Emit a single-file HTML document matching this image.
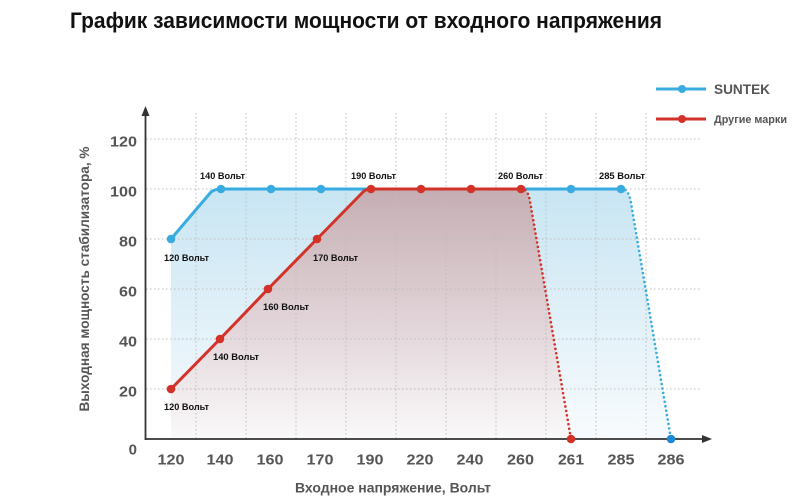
<!DOCTYPE html>
<html>
<head>
<meta charset="utf-8">
<style>
html,body{margin:0;padding:0;background:#fff;}
svg{display:block;}
text{font-family:"Liberation Sans","DejaVu Sans",sans-serif;font-weight:bold;}
</style>
</head>
<body>
<svg width="798" height="496" viewBox="0 0 798 496" xmlns="http://www.w3.org/2000/svg">
<defs>
<linearGradient id="gb" x1="0" y1="189" x2="0" y2="439" gradientUnits="userSpaceOnUse">
<stop offset="0" stop-color="#c8e5f3"/>
<stop offset="1" stop-color="#f8fbfd"/>
</linearGradient>
<linearGradient id="gr" x1="0" y1="189" x2="0" y2="439" gradientUnits="userSpaceOnUse">
<stop offset="0" stop-color="#c5aeb3"/>
<stop offset="0.55" stop-color="#e2d5d9"/>
<stop offset="1" stop-color="#faf9fa"/>
</linearGradient>
</defs>

<!-- title -->
<text x="70" y="28" font-size="22" fill="#111" textLength="592" lengthAdjust="spacingAndGlyphs">График зависимости мощности от входного напряжения</text>

<!-- fills -->
<path d="M171,239 L211,192 Q215,189 221,189 L621,189 C626,189 628.5,192 630.5,200 L671,439 L171,439 Z" fill="url(#gb)"/>
<path d="M171,389 L220,339 L268,289 L317,239 L363,192 Q366,189 371,189 L521,189 C526,189 528,192 529.8,200 L571,439 L171,439 Z" fill="url(#gr)"/>

<!-- grid -->
<g stroke="#bcbcbc" stroke-width="1" stroke-dasharray="1.5 2.5" fill="none">
<line x1="146" y1="139" x2="701" y2="139"/>
<line x1="146" y1="189" x2="701" y2="189"/>
<line x1="146" y1="239" x2="701" y2="239"/>
<line x1="146" y1="289" x2="701" y2="289"/>
<line x1="146" y1="339" x2="701" y2="339"/>
<line x1="146" y1="389" x2="701" y2="389"/>
<line x1="196" y1="113" x2="196" y2="439"/>
<line x1="246" y1="113" x2="246" y2="439"/>
<line x1="296" y1="113" x2="296" y2="439"/>
<line x1="346" y1="113" x2="346" y2="439"/>
<line x1="396" y1="113" x2="396" y2="439"/>
<line x1="446" y1="113" x2="446" y2="439"/>
<line x1="496" y1="113" x2="496" y2="439"/>
<line x1="546" y1="113" x2="546" y2="439"/>
<line x1="596" y1="113" x2="596" y2="439"/>
<line x1="646" y1="113" x2="646" y2="439"/>
</g>

<!-- axes -->
<line x1="145.5" y1="114" x2="145.5" y2="440" stroke="#333" stroke-width="1.8"/>
<polygon points="145.5,106 141.5,116 149.5,116" fill="#333"/>
<line x1="145" y1="439" x2="703" y2="439" stroke="#333" stroke-width="1.8"/>
<polygon points="712,439 702,435 702,443" fill="#333"/>

<!-- blue series -->
<path d="M171,239 L211,192 Q215,189 221,189 L621,189" fill="none" stroke="#38ace0" stroke-width="3" stroke-linejoin="round"/>
<path d="M621,189 C626,189 628.5,192 630.5,200 L671,439" fill="none" stroke="#38ace0" stroke-width="2.6" stroke-linecap="round" stroke-dasharray="0 4.5"/>

<!-- red series -->
<path d="M171,389 L220,339 L268,289 L317,239 L363,192 Q366,189 371,189 L521,189" fill="none" stroke="#d23228" stroke-width="3" stroke-linejoin="round"/>
<path d="M521,189 C526,189 528,192 529.8,200 L571,439" fill="none" stroke="#d23228" stroke-width="2.6" stroke-linecap="round" stroke-dasharray="0 4.5"/>

<!-- blue markers -->
<g fill="#38ace0">
<circle cx="171" cy="239" r="4.3"/>
<circle cx="221" cy="189" r="4.3"/>
<circle cx="271" cy="189" r="4.3"/>
<circle cx="321" cy="189" r="4.3"/>
<circle cx="571" cy="189" r="4.3"/>
<circle cx="621" cy="189" r="4.3"/>
</g>
<circle cx="671" cy="439" r="4.3" fill="#1c8ad3"/>

<!-- red markers -->
<g fill="#d23228">
<circle cx="171" cy="389" r="4.3"/>
<circle cx="220" cy="339" r="4.3"/>
<circle cx="268" cy="289" r="4.3"/>
<circle cx="317" cy="239" r="4.3"/>
<circle cx="371" cy="189" r="4.3"/>
<circle cx="421" cy="189" r="4.3"/>
<circle cx="471" cy="189" r="4.3"/>
<circle cx="521" cy="189" r="4.3"/>
<circle cx="571" cy="439" r="4.3"/>
</g>

<!-- point labels -->
<g font-size="9.5" fill="#111">
<text x="200" y="179" textLength="45" lengthAdjust="spacingAndGlyphs">140 Вольт</text>
<text x="164" y="261" textLength="45" lengthAdjust="spacingAndGlyphs">120 Вольт</text>
<text x="313" y="261" textLength="45" lengthAdjust="spacingAndGlyphs">170 Вольт</text>
<text x="263" y="310" textLength="46" lengthAdjust="spacingAndGlyphs">160 Вольт</text>
<text x="213" y="360" textLength="46" lengthAdjust="spacingAndGlyphs">140 Вольт</text>
<text x="164" y="410" textLength="45" lengthAdjust="spacingAndGlyphs">120 Вольт</text>
<text x="351" y="179" textLength="45" lengthAdjust="spacingAndGlyphs">190 Вольт</text>
<text x="498" y="179" textLength="45" lengthAdjust="spacingAndGlyphs">260 Вольт</text>
<text x="599" y="179" textLength="46" lengthAdjust="spacingAndGlyphs">285 Вольт</text>
</g>

<!-- y tick labels -->
<g font-size="15" fill="#555" text-anchor="end">
<text x="137" y="146.5" textLength="27" lengthAdjust="spacingAndGlyphs">120</text>
<text x="137" y="196.5" textLength="27" lengthAdjust="spacingAndGlyphs">100</text>
<text x="137" y="246.5" textLength="18" lengthAdjust="spacingAndGlyphs">80</text>
<text x="137" y="296.5" textLength="18" lengthAdjust="spacingAndGlyphs">60</text>
<text x="137" y="346.5" textLength="18" lengthAdjust="spacingAndGlyphs">40</text>
<text x="137" y="396.5" textLength="18" lengthAdjust="spacingAndGlyphs">20</text>
<text x="137" y="454.5">0</text>
</g>

<!-- x tick labels -->
<g font-size="15" fill="#555" text-anchor="middle">
<text x="171" y="464.5" textLength="27" lengthAdjust="spacingAndGlyphs">120</text>
<text x="220" y="464.5" textLength="27" lengthAdjust="spacingAndGlyphs">140</text>
<text x="270" y="464.5" textLength="27" lengthAdjust="spacingAndGlyphs">160</text>
<text x="320" y="464.5" textLength="27" lengthAdjust="spacingAndGlyphs">170</text>
<text x="370" y="464.5" textLength="27" lengthAdjust="spacingAndGlyphs">190</text>
<text x="420" y="464.5" textLength="27" lengthAdjust="spacingAndGlyphs">220</text>
<text x="470" y="464.5" textLength="27" lengthAdjust="spacingAndGlyphs">240</text>
<text x="520.5" y="464.5" textLength="27" lengthAdjust="spacingAndGlyphs">260</text>
<text x="571" y="464.5" textLength="26" lengthAdjust="spacingAndGlyphs">261</text>
<text x="621" y="464.5" textLength="27" lengthAdjust="spacingAndGlyphs">285</text>
<text x="671" y="464.5" textLength="27" lengthAdjust="spacingAndGlyphs">286</text>
</g>

<!-- axis titles -->
<text x="295" y="492.5" font-size="14" fill="#555" textLength="196" lengthAdjust="spacingAndGlyphs">Входное напряжение, Вольт</text>
<text transform="translate(89,279) rotate(-90)" x="0" y="0" font-size="14" fill="#555" text-anchor="middle" textLength="265" lengthAdjust="spacingAndGlyphs">Выходная мощность стабилизатора, %</text>

<!-- legend -->
<line x1="656" y1="89" x2="706" y2="89" stroke="#38ace0" stroke-width="3"/>
<circle cx="682" cy="89" r="4" fill="#38ace0"/>
<text x="714" y="94" font-size="14" fill="#555" textLength="56" lengthAdjust="spacingAndGlyphs">SUNTEK</text>
<line x1="656" y1="119" x2="706" y2="119" stroke="#d23228" stroke-width="3"/>
<circle cx="682" cy="119" r="4" fill="#d23228"/>
<text x="714" y="123" font-size="11" fill="#555" textLength="73" lengthAdjust="spacingAndGlyphs">Другие марки</text>
</svg>
</body>
</html>
